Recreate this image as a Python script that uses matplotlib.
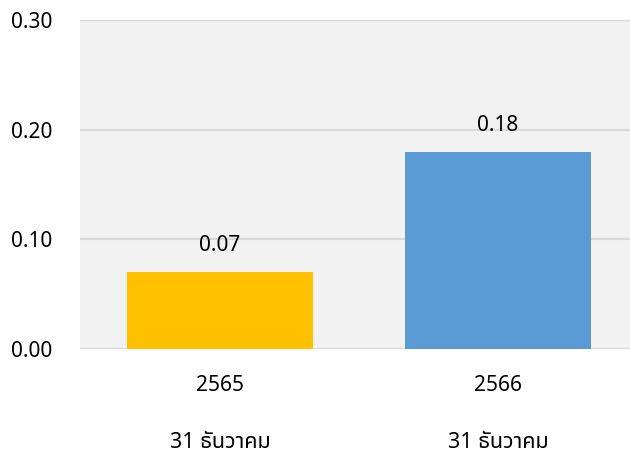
import matplotlib
matplotlib.use("Agg")
import matplotlib.pyplot as plt
import matplotlib.transforms as mtransforms
from matplotlib import font_manager
from matplotlib.ft2font import FT2Font

years = ["2565", "2566"]
dates = ["31 ธันวาคม", "31 ธันวาคม"]
values = [0.07, 0.18]
colors = ["#FFC000", "#5B9BD5"]
yticks = [0.0, 0.1, 0.2, 0.3]


def find_thai_font():
    # pick any installed font that has Thai glyphs
    names = []
    for f in font_manager.fontManager.ttflist:
        try:
            if 0x0E18 in FT2Font(f.fname).get_charmap():
                names.append(f.name)
        except Exception:
            pass
    for pref in ["Tahoma", "Noto Sans Thai", "Noto Sans Thai UI", "Loma", "Garuda", "Sarabun"]:
        if pref in names:
            return pref
    return names[0] if names else None


thai = find_thai_font()
fam = ["DejaVu Sans"] if thai is None else [thai, "DejaVu Sans"]
plt.rcParams["font.family"] = fam
fs = 15

fig = plt.figure(figsize=(6.3, 4.58), dpi=100)
ax = fig.add_axes([80 / 630, 109 / 458, 550 / 630, 329 / 458])
ax.set_facecolor("#F2F2F2")

x = list(range(len(values)))
bars = ax.bar(x, values, width=0.67, color=colors, zorder=3)

ax.set_xlim(-0.504, 1.475)
ax.set_ylim(0, 0.3)
ax.set_yticks(yticks)
ax.set_yticklabels([f"{v:.2f}" for v in yticks], fontsize=fs)
ax.yaxis.grid(True, color="#D9D9D9", linewidth=1.5, zorder=0)
ax.tick_params(axis="both", length=0)
ax.tick_params(axis="y", pad=20)
for s in ax.spines.values():
    s.set_visible(False)

ax.set_xticks(x)
ax.set_xticklabels(years, fontsize=fs)
ax.tick_params(axis="x", pad=19)

trans = mtransforms.blended_transform_factory(ax.transData, ax.transAxes)
for xi, d in zip(x, dates):
    ax.text(xi, -0.285, d, transform=trans, ha="center", va="center", fontsize=fs + 0.5)

for b, v in zip(bars, values):
    ax.annotate(f"{v:.2f}", (b.get_x() + b.get_width() / 2, v),
                xytext=(0, 19), textcoords="offset points",
                ha="center", va="center", fontsize=fs)

fig.savefig("out.png", dpi=100)
